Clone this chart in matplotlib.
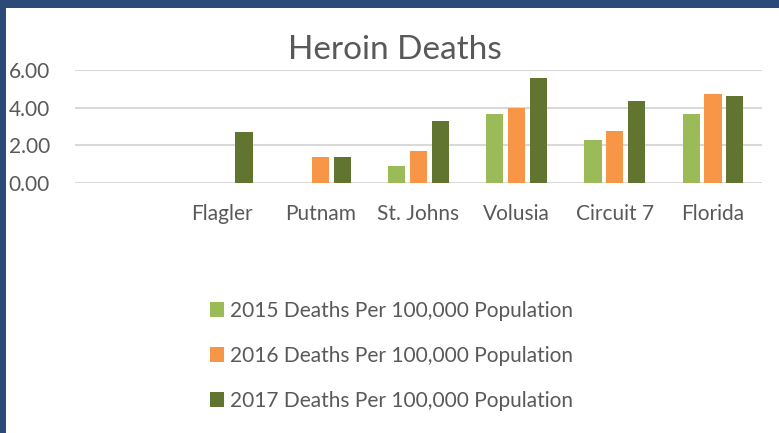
import matplotlib
matplotlib.use("Agg")
import matplotlib.pyplot as plt
import numpy as np
from matplotlib.patches import Rectangle

categories = ["", "Flagler", "Putnam", "St. Johns", "Volusia", "Circuit 7", "Florida"]
series_names = ["2015 Deaths Per 100,000 Population",
                "2016 Deaths Per 100,000 Population",
                "2017 Deaths Per 100,000 Population"]
v2015 = [np.nan, np.nan, np.nan, 0.89, 3.67, 2.27, 3.67]
v2016 = [np.nan, np.nan, 1.37, 1.70, 3.97, 2.77, 4.72]
v2017 = [np.nan, 2.71, 1.36, 3.28, 5.55, 4.35, 4.60]
yticks = [0, 2, 4, 6]
colors = ["#9BBB59", "#F79646", "#627530"]

plt.rcParams['font.family'] = ['Lato', 'DejaVu Sans']
W, H = 779, 433
fig = plt.figure(figsize=(W/100, H/100), dpi=100)
fig.patch.set_facecolor("#2c4a78")
fig.patches.append(Rectangle((6/W, 0), 1, (H-8)/H, transform=fig.transFigure,
                             facecolor="white", edgecolor="none", zorder=-10))

ax = fig.add_axes([75/W, (H-182.7)/H, (762-75)/W, (182.7-70)/H])
ax.set_facecolor("none")
x = np.arange(len(categories))
w = 0.175
step = 0.222
for i, (vals, c, name) in enumerate(zip([v2015, v2016, v2017], colors, series_names)):
    ax.bar(x + (i-1)*step, vals, width=w, color=c, label=name, zorder=3)

ax.set_xlim(-0.5, len(categories)-0.5)
ax.set_ylim(0, 6)
ax.set_yticks(yticks)
ax.set_yticklabels([f"{t:.2f}" for t in yticks])
ax.set_xticks(x)
ax.set_xticklabels(categories)
ax.yaxis.grid(True, color="#D9D9D9", linewidth=1.5, zorder=0)
ax.set_axisbelow(True)
for s in ax.spines.values():
    s.set_visible(False)
ax.tick_params(axis='both', length=0, colors="#595959", labelsize=15)
ax.tick_params(axis='y', pad=18)
ax.tick_params(axis='x', pad=15)
for lbl in ax.get_yticklabels() + ax.get_xticklabels():
    lbl.set_color("#595959")

fig.text(395/W, 1-50/H, "Heroin Deaths", ha="center", va="center",
         fontsize=24, color="#595959")

leg = fig.legend(loc="upper left", bbox_to_anchor=(191/W, 1-282/H), frameon=False,
                 fontsize=15, labelspacing=1.2, handlelength=0.7, handleheight=0.7,
                 handletextpad=0.25, labelcolor="#595959")
plt.savefig("out.png", dpi=100)
